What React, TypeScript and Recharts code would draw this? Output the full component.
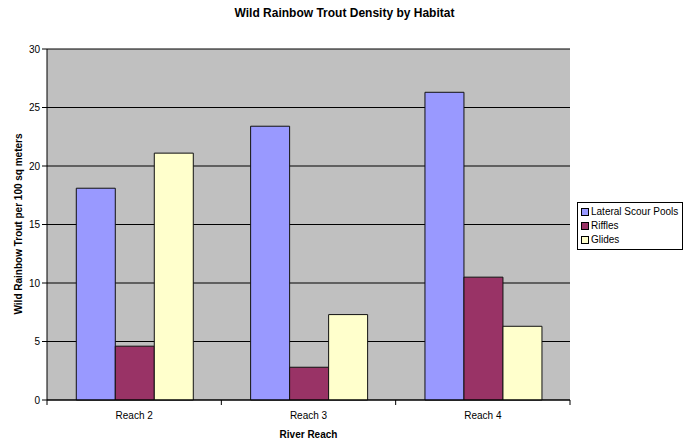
import { BarChart, Bar, XAxis, YAxis, CartesianGrid } from 'recharts'

// Data
const reaches = ['Reach 2', 'Reach 3', 'Reach 4']
const lateralScourPools = [18.1, 23.4, 26.3]
const riffles = [4.6, 2.8, 10.5]
const glides = [21.1, 7.3, 6.3]
const yTicks = [0, 5, 10, 15, 20, 25, 30]

const seriesList = [
    { key: 'pools', name: 'Lateral Scour Pools', color: '#9999FF' },
    { key: 'riffles', name: 'Riffles', color: '#993366' },
    { key: 'glides', name: 'Glides', color: '#FFFFCC' },
]

const data = reaches.map((reach, i) => ({
    reach,
    pools: lateralScourPools[i],
    riffles: riffles[i],
    glides: glides[i],
}))

const W = 689
const H = 444
const xAxisHeight = 30
const margin = { top: 49, right: 119, bottom: 44 - xAxisHeight, left: 0 }
const yAxisWidth = 47
const plotWidth = W - margin.left - margin.right - yAxisWidth
const halfBand = plotWidth / reaches.length / 2
const font = '"Liberation Sans", Arial, sans-serif'

// Excel-style tick: label centred, tick marks on category boundaries
function ReachTick(props: any) {
    const { x, y, payload, index } = props
    const last = index === reaches.length - 1
    return (
        <g>
            <line x1={x - halfBand} y1={y - 8} x2={x - halfBand} y2={y - 3} stroke="#000" />
            {last && <line x1={x + halfBand} y1={y - 8} x2={x + halfBand} y2={y - 3} stroke="#000" />}
            <text x={x} y={y + 11} textAnchor="middle" fontSize={10} fontFamily={font} fill="#000">
                {payload.value}
            </text>
        </g>
    )
}

export default function App() {
    return (
        <div style={{ position: 'absolute', left: 0, top: 0, width: W, height: H, background: '#fff', fontFamily: font }}>
            <div style={{ position: 'absolute', left: 0, top: 6, width: W, textAlign: 'center', fontSize: 12, fontWeight: 'bold' }}>
                Wild Rainbow Trout Density by Habitat
            </div>
            <BarChart
                width={W}
                height={H}
                data={data}
                margin={margin}
                barCategoryGap="16.8%"
                barGap={0}
            >
                <CartesianGrid vertical={false} stroke="#000" fill="#C0C0C0" />
                <XAxis
                    dataKey="reach"
                    height={xAxisHeight}
                    stroke="#000"
                    tickLine={false}
                    tick={<ReachTick />}
                    interval={0}
                />
                <YAxis
                    width={yAxisWidth}
                    domain={[0, 30]}
                    ticks={yTicks}
                    stroke="#000"
                    tickSize={5}
                    tick={{ fontSize: 10, fill: '#000', fontFamily: font }}
                />
                {seriesList.map((s) => (
                    <Bar
                        key={s.key}
                        dataKey={s.key}
                        name={s.name}
                        fill={s.color}
                        stroke="#111"
                        strokeWidth={1}
                        isAnimationActive={false}
                    />
                ))}
            </BarChart>
            <div
                style={{
                    position: 'absolute',
                    left: 10,
                    top: 224,
                    transform: 'translate(-50%, -50%) rotate(-90deg)',
                    whiteSpace: 'nowrap',
                    fontSize: 10,
                    fontWeight: 'bold',
                    marginLeft: 8,
                }}
            >
                Wild Rainbow Trout per 100 sq meters
            </div>
            <div style={{ position: 'absolute', left: 47, top: 429, width: 523, textAlign: 'center', fontSize: 10, fontWeight: 'bold' }}>
                River Reach
            </div>
            <div
                style={{
                    position: 'absolute',
                    left: 577,
                    top: 202,
                    width: 101,
                    border: '1px solid #000',
                    background: '#fff',
                    padding: '2px 0 2px 3px',
                    fontSize: 10,
                    lineHeight: '14px',
                }}
            >
                {seriesList.map((s) => (
                    <div key={s.key} style={{ display: 'flex', alignItems: 'center' }}>
                        <span style={{ display: 'inline-block', width: 6, height: 6, background: s.color, border: '1px solid #000', marginRight: 2 }} />
                        {s.name}
                    </div>
                ))}
            </div>
        </div>
    )
}
